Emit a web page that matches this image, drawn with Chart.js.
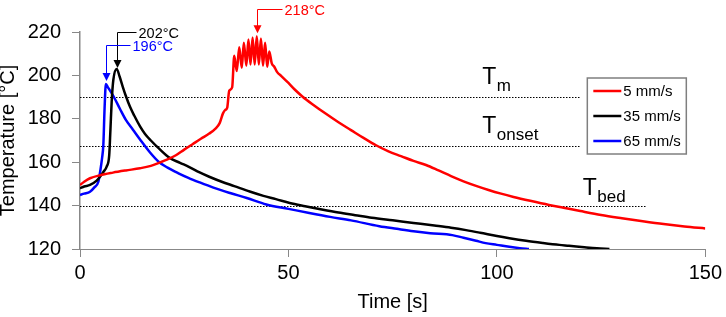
<!DOCTYPE html>
<html lang="en">
<head>
<meta charset="UTF-8">
<title>Temperature vs time</title>
<style>
  html, body { margin: 0; padding: 0; background: #fff; }
  #wrap { width: 726px; height: 317px; }
</style>
</head>
<body>
<div id="wrap"><canvas id="chart" width="726" height="317"></canvas></div>
<script src="https://cdn.jsdelivr.net/npm/chart.js"></script>
<script>
// 5 mm/s
const timeRed = [0, 1, 2.4, 4.8, 7.9, 11, 14.4, 17, 19.1, 21, 23, 25, 27, 29, 31, 32.5, 33.5, 34.3, 34.8, 35.3, 35.8, 36.5,
  37.0, 37.6, 38.2, 38.8, 39.3, 39.9, 40.4, 40.9, 41.4, 41.9, 42.4, 42.9, 43.4, 43.9, 44.4, 44.9, 45.4, 46.0, 46.6, 47.3,
  48.3, 50, 51.5, 53.4, 56, 59, 62, 65, 68, 71, 74, 77, 80, 83, 86, 89, 92, 95, 98, 101, 104, 108, 112.5, 116, 120, 125,
  130, 135, 140, 145, 150];
const tempRed = [149.5, 151, 152.6, 154, 155.2, 156.2, 157.2, 158.3, 159.8, 161.3, 163.2, 165.8, 168.3, 170.8, 173.2, 175.5, 178, 182.5, 184, 185, 193, 194.5,
  209, 202, 213, 203.5, 215, 204.5, 216.5, 205, 217.5, 205, 218, 205, 217, 204.5, 215, 204, 211, 205.5, 204, 201.5,
  199.7, 196.5, 193.5, 190.2, 186.4, 182.3, 178.4, 174.8, 171.2, 167.8, 165, 162.8, 160.6, 158.7, 156.2, 153.6, 151.2, 149.1, 147.2, 145.5, 144, 142.2, 140.3, 139, 137.5, 135.7,
  134.2, 132.8, 131.5, 130.4, 129.5];

// 35 mm/s
const timeBlack = [0, 1, 2.4, 4, 4.8, 5.6, 6.4, 7.0, 7.3, 7.6, 8.0, 8.8, 9.5, 10.3, 11, 12, 13, 14.4, 15.6, 17, 19.1, 21.5,
  24, 26, 28.7, 31, 34, 37, 40.7, 44, 47, 50.3, 54, 58, 62, 66, 70, 75, 80, 85, 89, 92.6, 96, 100, 103, 107, 111, 115,
  117.3, 121, 124, 127];
const tempBlack = [148, 148.8, 149.5, 151.5, 153.3, 155.5, 158, 163, 175, 188, 198, 203, 199.5, 194.5, 190.5, 185.5, 181.5, 176.5, 173, 170, 166, 162,
  159.7, 158, 155.3, 153.3, 151, 149, 146.5, 144.5, 143, 141.2, 139.7, 138.2, 136.8, 135.6, 134.4, 133.2, 132, 130.8, 129.8, 128.7, 127.5, 126, 125, 123.8, 122.8, 121.9,
  121.5, 120.8, 120.3, 120];

// 65 mm/s
const timeBlue = [0, 1, 2.4, 3.5, 4.4, 4.9, 5.3, 5.6, 5.9, 6.2, 6.7, 7.2, 8, 9.6, 11, 12.7, 14.4, 16.8, 19, 21, 23.5, 26,
  28.7, 32, 36, 40, 44.7, 50, 55, 60, 65, 71.8, 76, 80, 84, 89.3, 92, 95, 97.3, 100, 103, 105.5, 107.7];
const tempBlue = [144.9, 145.5, 146.4, 148.5, 151, 156.4, 162, 168, 185, 196, 194.5, 193, 190.5, 184.5, 179.5, 175, 170.5, 164.5, 160, 157.5, 155, 152.8,
  150.7, 148.3, 145.8, 143.5, 140.5, 138.5, 136.6, 134.8, 133.2, 130.5, 129.3, 128.2, 127.3, 126.4, 125.2, 123.8, 122.7, 121.9, 121, 120.4, 120];

const seriesLabels = ['5 mm/s', '35 mm/s', '65 mm/s'];
const seriesColors = ['#ff0000', '#000000', '#0000ff'];

// reference temperatures (dotted lines)
const refTemps = [190, 167.5, 140];
const refEnds = [120, 120, 136];
const refSubs = ['m', 'onset', 'bed'];
const refLabelTimes = [96.5, 96.5, 120.6];

// peak callouts
const peakTimes = [42.4, 8.8, 6.2];
const peakTemps = [218, 202, 196];
const peakLabels = ['218°C', '202°C', '196°C'];

const FONT = "'Liberation Sans', Arial, Helvetica, sans-serif";
Chart.defaults.font.family = FONT;
Chart.defaults.color = '#000';

function toPoints(ts, vs) {
  return ts.map((t, i) => ({ x: t, y: vs[i] }));
}

// dotted reference lines + T labels, drawn under the curves
const refPlugin = {
  id: 'refLines',
  beforeDatasetsDraw(chart) {
    const { ctx, scales: { x, y } } = chart;
    ctx.save();
    ctx.strokeStyle = '#000';
    ctx.lineWidth = 1;
    ctx.setLineDash([1.5, 1.5]);
    refTemps.forEach((v, i) => {
      const py = Math.round(y.getPixelForValue(v)) + 0.5;
      ctx.beginPath();
      ctx.moveTo(x.getPixelForValue(0), py);
      ctx.lineTo(x.getPixelForValue(refEnds[i]), py);
      ctx.stroke();
    });
    ctx.setLineDash([]);
    ctx.fillStyle = '#000';
    ctx.textBaseline = 'alphabetic';
    ctx.textAlign = 'left';
    refTemps.forEach((v, i) => {
      const py = y.getPixelForValue(v) - (i === 2 ? 11 : 13);
      const px = x.getPixelForValue(refLabelTimes[i]);
      ctx.font = '23px ' + FONT;
      ctx.fillText('T', px, py);
      const w = ctx.measureText('T').width;
      ctx.font = '17px ' + FONT;
      ctx.fillText(refSubs[i], px + w + 0.5, py + 7);
    });
    ctx.restore();
  }
};

// peak arrows + legend box
const calloutPlugin = {
  id: 'callouts',
  afterDatasetsDraw(chart) {
    const { ctx, chartArea, scales: { x, y } } = chart;
    const rise = [24, 36, 36.5];
    const arm = [25, 19, 24];
    ctx.save();
    peakTimes.forEach((t, i) => {
      const col = seriesColors[i];
      const px = Math.round(x.getPixelForValue(t)) + 0.5;
      const tip = y.getPixelForValue(peakTemps[i]) - 3;
      const top = Math.round(tip - rise[i]) + 0.5;
      ctx.strokeStyle = col;
      ctx.fillStyle = col;
      ctx.lineWidth = 1;
      ctx.beginPath();
      ctx.moveTo(px + arm[i], top);
      ctx.lineTo(px, top);
      ctx.lineTo(px, tip - 7);
      ctx.stroke();
      ctx.beginPath();
      ctx.moveTo(px - 4, tip - 8);
      ctx.lineTo(px + 4, tip - 8);
      ctx.lineTo(px, tip);
      ctx.closePath();
      ctx.fill();
      ctx.font = '14.5px ' + FONT;
      ctx.textAlign = 'left';
      ctx.textBaseline = 'middle';
      ctx.fillText(peakLabels[i], px + arm[i] + 2, top + 1);
    });

    // legend
    const bx = chartArea.right - 118, by = chartArea.top + 46, bw = 99, bh = 76;
    ctx.fillStyle = '#fff';
    ctx.fillRect(bx, by, bw, bh);
    ctx.strokeStyle = '#7f7f7f';
    ctx.lineWidth = 1.5;
    ctx.strokeRect(bx, by, bw, bh);
    seriesLabels.forEach((lab, i) => {
      const ly = by + 13 + i * 25;
      ctx.strokeStyle = seriesColors[i];
      ctx.lineWidth = 2.5;
      ctx.beginPath();
      ctx.moveTo(bx + 6, ly);
      ctx.lineTo(bx + 34, ly);
      ctx.stroke();
      ctx.fillStyle = '#000';
      ctx.font = '15px ' + FONT;
      ctx.textAlign = 'left';
      ctx.textBaseline = 'middle';
      ctx.fillText(lab, bx + 36, ly + 1);
    });
    ctx.restore();
  }
};

const ctx = document.getElementById('chart').getContext('2d');
new Chart(ctx, {
  type: 'line',
  data: {
    datasets: [
      { label: seriesLabels[0], data: toPoints(timeRed, tempRed), borderColor: seriesColors[0] },
      { label: seriesLabels[1], data: toPoints(timeBlack, tempBlack), borderColor: seriesColors[1] },
      { label: seriesLabels[2], data: toPoints(timeBlue, tempBlue), borderColor: seriesColors[2] }
    ]
  },
  options: {
    responsive: false,
    animation: false,
    devicePixelRatio: 1,
    layout: { padding: { top: 32, right: 19, left: 0, bottom: 0 } },
    elements: {
      line: { borderWidth: 2.5, cubicInterpolationMode: 'monotone', fill: false },
      point: { radius: 0 }
    },
    plugins: {
      legend: { display: false },
      tooltip: { enabled: false }
    },
    scales: {
      x: {
        type: 'linear',
        min: 0,
        max: 150,
        ticks: { stepSize: 50, font: { size: 20 }, padding: 4, color: '#000' },
        grid: { drawOnChartArea: false, drawTicks: true, tickLength: 8, color: '#888' },
        border: { display: true, color: '#888', width: 1 },
        title: { display: true, text: 'Time [s]', font: { size: 20 }, padding: { top: 0, bottom: 3 }, color: '#000' },
        afterFit(s) { s.height = 68; }
      },
      y: {
        min: 120,
        max: 220,
        ticks: { stepSize: 20, font: { size: 20 }, padding: 11, color: '#000' },
        grid: { drawOnChartArea: false, drawTicks: true, tickLength: 8, color: '#888' },
        border: { display: true, color: '#888', width: 1.5 },
        title: { display: true, text: 'Temperature [°C]', font: { size: 20, lineHeight: 0.85 }, padding: { top: 0, bottom: 0 }, color: '#000' },
        afterFit(s) { s.width = 80; }
      }
    }
  },
  plugins: [refPlugin, calloutPlugin]
});
</script>
</body>
</html>
